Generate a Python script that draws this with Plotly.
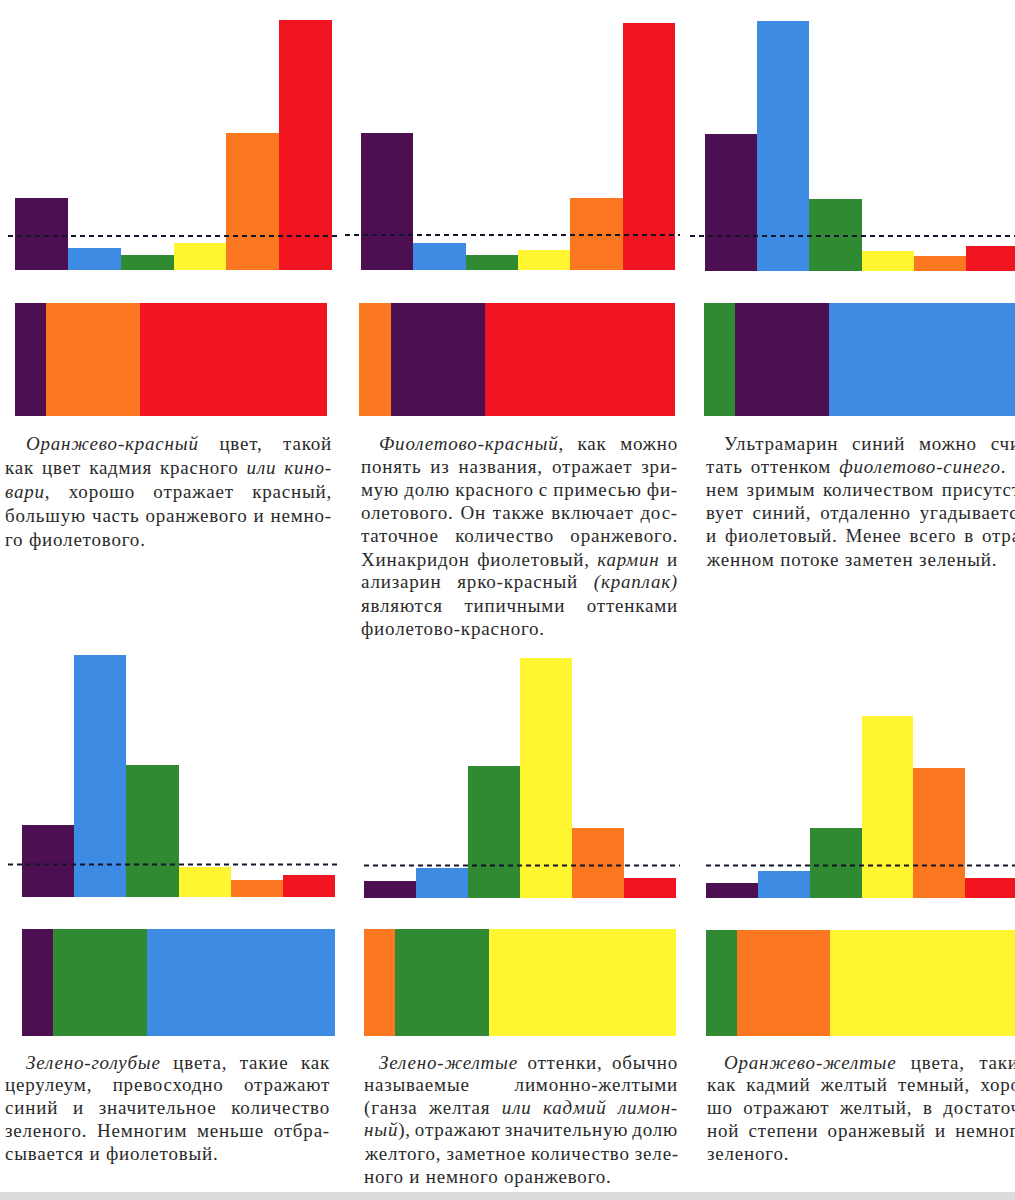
import json
import plotly.graph_objects as go

W, H = 1015, 1200

# ---------------- data ----------------
categories = ["фиолетовый", "синий", "зеленый", "желтый", "оранжевый", "красный"]
colors = {"фиолетовый": "#4b0f52", "синий": "#3d8be2", "зеленый": "#2f8a32",
          "желтый": "#fff530", "оранжевый": "#fb7820", "красный": "#f01520"}

refl_orange_red = [29, 9, 6, 11, 55, 100]
refl_violet_red = [55, 11, 6, 8, 29, 99]
refl_ultramarine = [55, 100, 29, 8, 6, 10]
refl_green_blue = [29, 97, 53, 12, 7, 9]
refl_green_yellow = [7, 12, 53, 96, 28, 8]
refl_orange_yellow = [6, 11, 28, 73, 52, 8]

thresholds = [13.6, 14, 14, 13, 13, 13]

mix_orange_red = (["фиолетовый", "оранжевый", "красный"], [10, 30, 60])
mix_violet_red = (["оранжевый", "фиолетовый", "красный"], [10, 30, 60])
mix_ultramarine = (["зеленый", "фиолетовый", "синий"], [10, 30, 60])
mix_green_blue = (["фиолетовый", "зеленый", "синий"], [10, 30, 60])
mix_green_yellow = (["оранжевый", "зеленый", "желтый"], [10, 30, 60])
mix_orange_yellow = (["зеленый", "оранжевый", "желтый"], [10, 30, 60])

text_orange_red = ["<i>Оранжево-красный</i> цвет, такой",
                   "как цвет кадмия красного <i>или кино-</i>",
                   "<i>вари</i>, хорошо отражает красный,",
                   "большую часть оранжевого и немно-",
                   "го фиолетового."]
text_violet_red = ["<i>Фиолетово-красный</i>, как можно",
                   "понять из названия, отражает зри-",
                   "мую долю красного с примесью фи-",
                   "олетового. Он также включает дос-",
                   "таточное количество оранжевого.",
                   "Хинакридон фиолетовый, <i>кармин</i> и",
                   "ализарин ярко-красный <i>(краплак)</i>",
                   "являются типичными оттенками",
                   "фиолетово-красного."]
text_ultramarine = ["Ультрамарин синий можно счи-",
                    "тать оттенком <i>фиолетово-синего</i>. В",
                    "нем зримым количеством присутст-",
                    "вует синий, отдаленно угадывается",
                    "и фиолетовый. Менее всего в отра-",
                    "женном потоке заметен зеленый."]
text_green_blue = ["<i>Зелено-голубые</i> цвета, такие как",
                   "церулеум, превосходно отражают",
                   "синий и значительное количество",
                   "зеленого. Немногим меньше отбра-",
                   "сывается и фиолетовый."]
text_green_yellow = ["<i>Зелено-желтые</i> оттенки, обычно",
                     "называемые лимонно-желтыми",
                     "(ганза желтая <i>или кадмий лимон-</i>",
                     "<i>ный</i>), отражают значительную долю",
                     "желтого, заметное количество зеле-",
                     "ного и немного оранжевого."]
text_orange_yellow = ["<i>Оранжево-желтые</i> цвета, такие",
                      "как кадмий желтый темный, хоро-",
                      "шо отражают желтый, в достаточ-",
                      "ной степени оранжевый и немного",
                      "зеленого."]

# ---------------- layout (pixels) ----------------
panels = [
    dict(v=refl_orange_red, t=thresholds[0], m=mix_orange_red, txt=text_orange_red,
         bl=15, br=332, dl=8, dr=338, base=270, ml=15, mr=327, mfull=312, mt=303, mb=416,
         tx=3, ind=24, tr=330, ty=443, lh=24),
    dict(v=refl_violet_red, t=thresholds[1], m=mix_violet_red, txt=text_violet_red,
         bl=361, br=675, dl=345, dr=680, base=270, ml=359, mr=675, mfull=316, mt=303, mb=416,
         tx=359, ind=377, tr=676, ty=443, lh=23.2),
    dict(v=refl_ultramarine, t=thresholds[2], m=mix_ultramarine, txt=text_ultramarine,
         bl=705, br=1018, dl=690, dr=1015, base=271, ml=704, mr=1015, mfull=313, mt=303, mb=416,
         tx=704, ind=722, tr=1026, ty=443, lh=23.2),
    dict(v=refl_green_blue, t=thresholds[3], m=mix_green_blue, txt=text_green_blue,
         bl=22, br=335, dl=8, dr=340, base=897, ml=22, mr=335, mfull=313, mt=929, mb=1036,
         tx=3, ind=24, tr=328, ty=1062, lh=22.8),
    dict(v=refl_green_yellow, t=thresholds[4], m=mix_green_yellow, txt=text_green_yellow,
         bl=364, br=676, dl=364, dr=680, base=898, ml=364, mr=676, mfull=312, mt=929, mb=1036,
         tx=362, ind=377, tr=676, ty=1062, lh=22.8),
    dict(v=refl_orange_yellow, t=thresholds[5], m=mix_orange_yellow, txt=text_orange_yellow,
         bl=706, br=1017, dl=706, dr=1015, base=898, ml=706, mr=1015, mfull=311, mt=930, mb=1036,
         tx=705, ind=722, tr=1026, ty=1062, lh=22.8),
]

PX_PER_UNIT = 2.5  # 100 units = 250 px
YTOP = 104
FONT = "Liberation Serif"

fig = go.Figure()
layout = dict(width=W, height=H, margin=dict(l=0, r=0, t=0, b=0),
              paper_bgcolor="white", plot_bgcolor="rgba(0,0,0,0)",
              showlegend=False, barmode="stack", bargap=0,
              font=dict(family=FONT))
shapes = []
annotations = []
justify = []  # target line width (px) per annotation, or None for paragraph-final lines

def xf(px):
    return px / W

def yf(px):
    return 1 - px / H

axis_off = dict(visible=False, showgrid=False, zeroline=False, fixedrange=True)

ax = 0
for p in panels:
    # ---- reflectance bars ----
    ax += 1
    unit = (p["br"] - p["bl"]) / 6
    xr = [-0.5 - (p["bl"] - p["dl"]) / unit, 5.5 + (p["dr"] - p["br"]) / unit]
    ytop_px = p["base"] - YTOP * PX_PER_UNIT
    xa = "x" if ax == 1 else f"x{ax}"
    ya = "y" if ax == 1 else f"y{ax}"
    fig.add_trace(go.Bar(x=list(range(len(categories))), y=p["v"], width=1,
                         marker=dict(color=[colors[c] for c in categories], line=dict(width=0)),
                         xaxis=xa, yaxis=ya, hoverinfo="skip"))
    layout["xaxis" if ax == 1 else f"xaxis{ax}"] = dict(domain=[xf(p["dl"]), xf(p["dr"])], range=xr,
                                                        anchor=ya, **axis_off)
    layout["yaxis" if ax == 1 else f"yaxis{ax}"] = dict(domain=[yf(p["base"]), yf(ytop_px)], range=[0, YTOP],
                                                        anchor=xa, **axis_off)
    shapes.append(dict(type="line", xref=f"{xa} domain", yref=ya, x0=0, x1=1, y0=p["t"], y1=p["t"],
                       line=dict(color="#14142a", width=2, dash="5px,4px"), layer="above"))

    # ---- mixture stacked bar ----
    ax += 1
    xa = f"x{ax}"
    ya = f"y{ax}"
    names, vals = p["m"]
    for n, v in zip(names, vals):
        fig.add_trace(go.Bar(x=[v], y=[0], orientation="h", width=1,
                             marker=dict(color=colors[n], line=dict(width=0)),
                             xaxis=xa, yaxis=ya, hoverinfo="skip"))
    total = sum(vals)
    xr = [0, total * (p["mr"] - p["ml"]) / p["mfull"]]
    layout[f"xaxis{ax}"] = dict(domain=[xf(p["ml"]), xf(p["mr"])], range=xr, anchor=ya, **axis_off)
    layout[f"yaxis{ax}"] = dict(domain=[yf(p["mb"]), yf(p["mt"])], range=[-0.5, 0.5], anchor=xa, **axis_off)

    # ---- caption ----
    n_lines = len(p["txt"])
    for i, line in enumerate(p["txt"]):
        x0 = p["ind"] if i == 0 else p["tx"]
        annotations.append(dict(text=line, xref="paper", yref="paper",
                                x=xf(x0), y=yf(p["ty"] + i * p["lh"]),
                                xanchor="left", yanchor="middle", align="left", showarrow=False,
                                font=dict(family=FONT, size=19, color="#2a2a2a")))
        justify.append(None if i == n_lines - 1 else p["tr"] - x0)

# gray strip at page bottom
shapes.append(dict(type="rect", xref="paper", yref="paper", x0=0, x1=1, y0=0, y1=yf(1192),
                   fillcolor="#dcdcdc", line=dict(width=0), layer="below"))

layout["shapes"] = shapes
layout["annotations"] = annotations
fig.update_layout(**layout)

# justify caption lines (book-style full justification) by adjusting word spacing
post = """
document.body.style.margin='0';document.body.style.overflow='hidden';
var targets = %s;
var gd = document.getElementById('{plot_id}');
targets.forEach(function(t, i){
  var g = gd.querySelector('.annotation[data-index="' + i + '"] text.annotation-text');
  if(!g) return;
  g.style.letterSpacing = '0.8px';
  if(t === null) return;
  var len = g.getComputedTextLength();
  var n = (g.textContent.match(/ /g) || []).length;
  if(n > 0){ g.style.wordSpacing = ((t - len) / n) + 'px'; }
});
""" % json.dumps(justify)

fig.write_html("out.html", config={"displayModeBar": False, "staticPlot": True},
               post_script=post)
